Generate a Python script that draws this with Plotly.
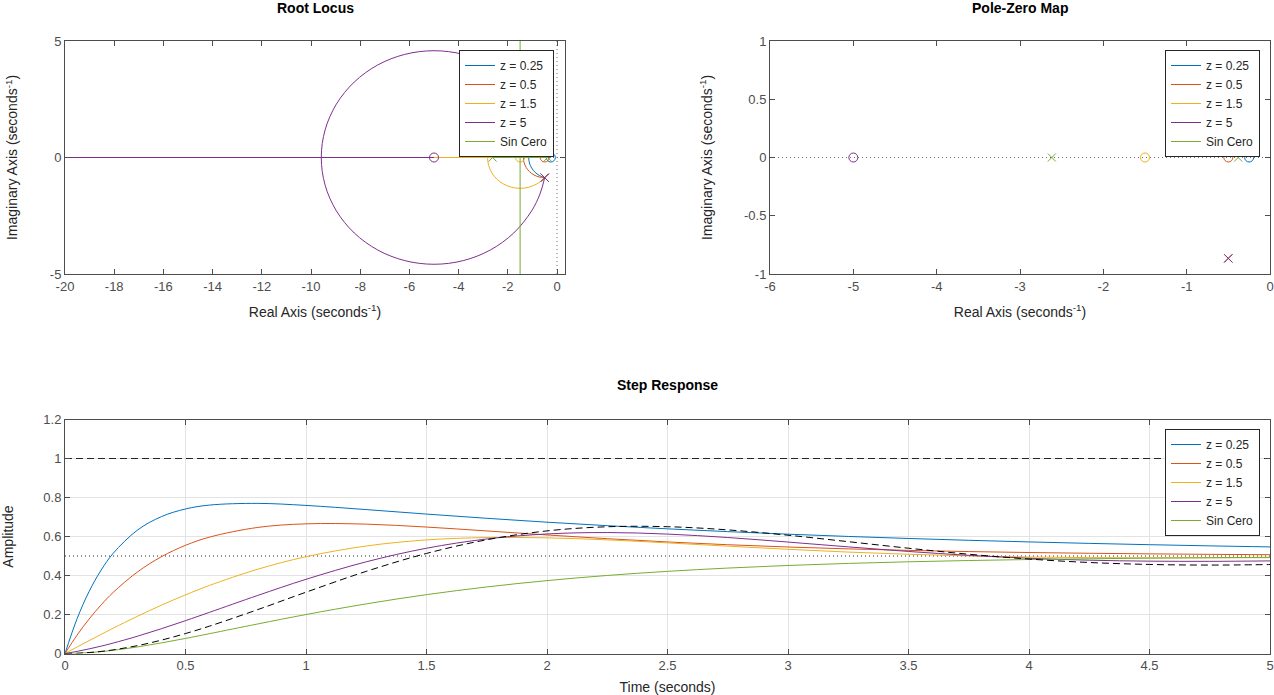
import plotly.graph_objects as go

W, H = 1274, 695

# ---------------- data ----------------
names = ['z = 0.25', 'z = 0.5', 'z = 1.5', 'z = 5', 'Sin Cero']
colors = ['#0072BD', '#D95319', '#EDB120', '#7E2F8E', '#77AC30']

# Root locus: upper-half branches (pole -> break-in point on real axis)
rl_blue_x = [-0.5, -0.7007, -0.8874, -1.0306, -1.1207, -1.1514]
rl_blue_y = [0.8660, 0.7806, 0.6374, 0.4507, 0.2333, 0.0]
rl_orange_x = [-0.5, -0.7241, -0.9330, -1.1124, -1.25, -1.3365, -1.3660]
rl_orange_y = [0.8660, 0.8365, 0.75, 0.6124, 0.4330, 0.2241, 0.0]
rl_yellow_x = [-0.5, -0.6497, -0.8386, -1.1576, -1.5, -1.8424, -2.1614, -2.4354, -2.6456, -2.7778, -2.8229]
rl_yellow_y = [0.8660, 1.0134, 1.1456, 1.2778, 1.3229, 1.2778, 1.1456, 0.9354, 0.6614, 0.3424, 0.0]
rl_purple_x = [-0.5, -0.6938, -1.0314, -1.7596, -2.7087, -3.8139, -5.0, -6.1861, -7.2913, -8.2404, -8.9686, -9.4264, -9.5826]
rl_purple_y = [0.8660, 1.5673, 2.2913, 3.2404, 3.9686, 4.4264, 4.5826, 4.4264, 3.9686, 3.2404, 2.2913, 1.1861, 0.0]
# real-axis branch extents [left, right]
rl_real_blue = [-20.0, -0.25]
rl_real_orange = [-20.0, -0.5]
rl_real_yellow = [-20.0, -1.5]
rl_real_purple = [-20.0, -5.0]
rl_real_green = [-2.618, -0.382]
rl_vert_green_x = [-1.5, -1.5]
rl_vert_green_y = [5.0, -5.0]

# poles / zeros
pole_re = -0.5
pole_im = 0.8660
zeros = [-0.25, -0.5, -1.5, -5.0]
green_poles = [-0.382, -2.618]

# axis limits and ticks
rl_xlim = [-20.0, 0.325]
rl_ylim = [-5.0, 5.0]
rl_xticks = [-20, -18, -16, -14, -12, -10, -8, -6, -4, -2, 0]
rl_yticks = [-5, 0, 5]
pz_xlim = [-6.0, 0.0]
pz_ylim = [-1.0, 1.0]
pz_xticks = [-6, -5, -4, -3, -2, -1, 0]
pz_yticks = [-1, -0.5, 0, 0.5, 1]
st_xlim = [0.0, 5.0]
st_ylim = [0.0, 1.2]
st_xticks = [0, 0.5, 1, 1.5, 2, 2.5, 3, 3.5, 4, 4.5, 5]
st_yticks = [0, 0.2, 0.4, 0.6, 0.8, 1, 1.2]

# step responses
t_step = [0, 0.05, 0.1, 0.15, 0.2, 0.3, 0.4, 0.5, 0.6, 0.8, 1.0, 1.25, 1.5, 1.75, 2.0,
          2.25, 2.5, 2.75, 3.0, 3.25, 3.5, 3.75, 4.0, 4.25, 4.5, 4.75, 5.0]
y_z025 = [0, 0.1780, 0.3180, 0.4279, 0.5138, 0.6323, 0.7020, 0.7412, 0.7612, 0.7698, 0.7594, 0.7380,
          0.7150, 0.6933, 0.6734, 0.6555, 0.6393, 0.6249, 0.6119, 0.6003, 0.5899, 0.5805, 0.5722,
          0.5647, 0.5580, 0.5520, 0.5466]
y_z05 = [0, 0.0940, 0.1767, 0.2495, 0.3133, 0.4176, 0.4963, 0.5547, 0.5970, 0.6465, 0.6649, 0.6634,
         0.6484, 0.6285, 0.6079, 0.5887, 0.5720, 0.5578, 0.5461, 0.5365, 0.5288, 0.5227, 0.5178,
         0.5140, 0.5109, 0.5085, 0.5067]
y_z15 = [0, 0.0332, 0.0659, 0.0981, 0.1297, 0.1905, 0.2477, 0.3007, 0.3493, 0.4322, 0.4963, 0.5513,
         0.5825, 0.5946, 0.5931, 0.5827, 0.5674, 0.5505, 0.5343, 0.5201, 0.5088, 0.5004, 0.4948,
         0.4917, 0.4904, 0.4906, 0.4916]
y_z5 = [0, 0.0109, 0.0236, 0.0378, 0.0535, 0.0884, 0.1271, 0.1684, 0.2113, 0.2979, 0.3804, 0.4702,
        0.5399, 0.5873, 0.6131, 0.6203, 0.6124, 0.5947, 0.5715, 0.5467, 0.5233, 0.5035, 0.4884,
        0.4785, 0.4735, 0.4726, 0.4748]
y_sin = [0, 0.0012, 0.0045, 0.0097, 0.0164, 0.0336, 0.0543, 0.0774, 0.1018, 0.1516, 0.1998, 0.2545,
         0.3018, 0.3413, 0.3738, 0.4002, 0.4213, 0.4381, 0.4515, 0.4620, 0.4703, 0.4768, 0.4819,
         0.4858, 0.4890, 0.4914, 0.4933]
y_orig = [0, 0.0012, 0.0048, 0.0107, 0.0186, 0.0402, 0.0685, 0.1023, 0.1405, 0.2252, 0.3144, 0.4213,
          0.5132, 0.5832, 0.6287, 0.6500, 0.6502, 0.6339, 0.6066, 0.5735, 0.5399, 0.5092, 0.4844,
          0.4667, 0.4566, 0.4535, 0.4561]
st_final = 1.0
st_half = 0.5

# ---------------- styling ----------------
FONT = 'Liberation Sans, Arial, Helvetica, sans-serif'
AX = '#4d4d4d'
TXT = '#262626'
DOT = '#6e6e6e'


def px(xp):
    return xp / W


def py(yp):
    return 1 - yp / H


fig = go.Figure()


def full_arc(xs, ys):
    x = list(xs) + list(reversed(xs))[1:]
    y = list(ys) + [-v for v in reversed(ys)][1:]
    return x, y


# ---- Root locus ----
fig.add_trace(go.Scatter(x=[0, 0], y=rl_ylim, mode='lines', line=dict(color=DOT, width=1, dash='1px,3px'),
                         showlegend=False, hoverinfo='skip', xaxis='x', yaxis='y'))
fig.add_trace(go.Scatter(x=rl_xlim, y=[0, 0], mode='lines', line=dict(color=DOT, width=1, dash='1px,3px'),
                         showlegend=False, hoverinfo='skip', xaxis='x', yaxis='y'))

arcs = [(rl_blue_x, rl_blue_y), (rl_orange_x, rl_orange_y), (rl_yellow_x, rl_yellow_y), (rl_purple_x, rl_purple_y)]
reals = [rl_real_blue, rl_real_orange, rl_real_yellow, rl_real_purple]
for i in range(4):
    ax_, ay_ = full_arc(*arcs[i])
    fig.add_trace(go.Scatter(x=ax_, y=ay_, mode='lines', line=dict(color=colors[i], width=1, shape='spline'),
                             name=names[i], legend='legend', xaxis='x', yaxis='y', hoverinfo='skip'))
    fig.add_trace(go.Scatter(x=reals[i], y=[0, 0], mode='lines', line=dict(color=colors[i], width=1),
                             showlegend=False, xaxis='x', yaxis='y', hoverinfo='skip'))
    fig.add_trace(go.Scatter(x=[pole_re, pole_re], y=[pole_im, -pole_im], mode='markers',
                             marker=dict(symbol='x-thin', size=8, line=dict(color=colors[i], width=1)),
                             showlegend=False, xaxis='x', yaxis='y', hoverinfo='skip'))
    fig.add_trace(go.Scatter(x=[zeros[i]], y=[0], mode='markers',
                             marker=dict(symbol='circle-open', size=9, color=colors[i], line=dict(width=1)),
                             showlegend=False, xaxis='x', yaxis='y', hoverinfo='skip'))
fig.add_trace(go.Scatter(x=rl_real_green + [None] + rl_vert_green_x, y=[0, 0, None] + rl_vert_green_y,
                         mode='lines', line=dict(color=colors[4], width=1), name=names[4], legend='legend',
                         xaxis='x', yaxis='y', hoverinfo='skip'))
fig.add_trace(go.Scatter(x=green_poles, y=[0, 0], mode='markers',
                         marker=dict(symbol='x-thin', size=8, line=dict(color=colors[4], width=1)),
                         showlegend=False, xaxis='x', yaxis='y', hoverinfo='skip'))

# ---- Pole-zero map ----
fig.add_trace(go.Scatter(x=pz_xlim, y=[0, 0], mode='lines', line=dict(color=DOT, width=1, dash='1px,3px'),
                         showlegend=False, hoverinfo='skip', xaxis='x2', yaxis='y2'))
for i in range(4):
    fig.add_trace(go.Scatter(x=[None], y=[None], mode='lines', line=dict(color=colors[i], width=1),
                             name=names[i], legend='legend2', xaxis='x2', yaxis='y2'))
    fig.add_trace(go.Scatter(x=[pole_re, pole_re], y=[pole_im, -pole_im], mode='markers',
                             marker=dict(symbol='x-thin', size=8, line=dict(color=colors[i], width=1)),
                             showlegend=False, xaxis='x2', yaxis='y2', hoverinfo='skip'))
    fig.add_trace(go.Scatter(x=[zeros[i]], y=[0], mode='markers',
                             marker=dict(symbol='circle-open', size=9, color=colors[i], line=dict(width=1)),
                             showlegend=False, xaxis='x2', yaxis='y2', hoverinfo='skip'))
fig.add_trace(go.Scatter(x=[None], y=[None], mode='lines', line=dict(color=colors[4], width=1),
                         name=names[4], legend='legend2', xaxis='x2', yaxis='y2'))
fig.add_trace(go.Scatter(x=green_poles, y=[0, 0], mode='markers',
                         marker=dict(symbol='x-thin', size=8, line=dict(color=colors[4], width=1)),
                         showlegend=False, xaxis='x2', yaxis='y2', hoverinfo='skip'))

# ---- Step response ----
fig.add_trace(go.Scatter(x=st_xlim, y=[st_final, st_final], mode='lines',
                         line=dict(color='#262626', width=1, dash='7px,4px'),
                         showlegend=False, hoverinfo='skip', xaxis='x3', yaxis='y3'))
fig.add_trace(go.Scatter(x=st_xlim, y=[st_half, st_half], mode='lines',
                         line=dict(color='#262626', width=1, dash='1px,3px'),
                         showlegend=False, hoverinfo='skip', xaxis='x3', yaxis='y3'))
for i, ys in enumerate([y_z025, y_z05, y_z15, y_z5, y_sin]):
    fig.add_trace(go.Scatter(x=t_step, y=ys, mode='lines', line=dict(color=colors[i], width=1, shape='spline'),
                             name=names[i], legend='legend3', xaxis='x3', yaxis='y3'))
fig.add_trace(go.Scatter(x=t_step, y=y_orig, mode='lines',
                         line=dict(color='#000000', width=1, shape='spline', dash='7px,4px'),
                         showlegend=False, xaxis='x3', yaxis='y3'))


def axis(domain, rng, ticks, anchor, title, grid=False, standoff=None):
    d = dict(domain=domain, range=rng, tickmode='array', tickvals=ticks, ticktext=[str(v) for v in ticks],
             showline=True, linecolor=AX, linewidth=1, mirror='ticks', ticks='inside', ticklen=5,
             tickcolor=AX, tickfont=dict(family=FONT, size=13, color=AX), zeroline=False,
             showgrid=grid, gridcolor='#e3e3e3', gridwidth=1, anchor=anchor, fixedrange=True,
             automargin=False, ticklabeloverflow='allow',
             title=dict(text=title, font=dict(family=FONT, size=14, color=TXT)))
    if standoff is not None:
        d['title']['standoff'] = standoff
    return d


top_y = [py(274), py(41)]
bot_y = [py(653.5), py(419.5)]
dom1 = [px(65), px(565)]
dom2 = [px(770), px(1270)]
dom3 = [px(65), px(1270)]

leg_common = dict(bgcolor='white', bordercolor='#262626', borderwidth=1, xanchor='right', yanchor='top',
                  font=dict(family=FONT, size=12, color=TXT), tracegroupgap=0)

# tiny pad so the end tick (0) is not culled by floating-point rounding
pz_xrange = [pz_xlim[0], pz_xlim[1] + 1e-4]

fig.update_layout(
    width=W, height=H, autosize=False,
    margin=dict(l=0, r=0, t=0, b=0, autoexpand=False),
    paper_bgcolor='white', plot_bgcolor='white',
    font=dict(family=FONT, color=TXT),
    xaxis=axis(dom1, rl_xlim, rl_xticks, 'y', 'Real Axis (seconds<sup>-1</sup>)', standoff=14),
    yaxis=axis(top_y, rl_ylim, rl_yticks, 'x', 'Imaginary Axis (seconds<sup>-1</sup>)', standoff=28),
    xaxis2=axis(dom2, pz_xrange, pz_xticks, 'y2', 'Real Axis (seconds<sup>-1</sup>)', standoff=14),
    yaxis2=axis(top_y, pz_ylim, pz_yticks, 'x2', 'Imaginary Axis (seconds<sup>-1</sup>)', standoff=28),
    xaxis3=axis(dom3, st_xlim, st_xticks, 'y3', 'Time (seconds)', grid=True, standoff=11),
    yaxis3=axis(bot_y, st_ylim, st_yticks, 'x3', 'Amplitude', grid=True, standoff=36),
    legend=dict(x=px(554), y=py(50), **leg_common),
    legend2=dict(x=px(1260), y=py(50), **leg_common),
    legend3=dict(x=px(1260), y=py(429), **leg_common),
    showlegend=True,
    annotations=[
        dict(text='<b>Root Locus</b>', x=(dom1[0] + dom1[1]) / 2, y=py(8), xref='paper', yref='paper',
             showarrow=False, font=dict(family=FONT, size=14, color='#000000'), xanchor='center', yanchor='middle'),
        dict(text='<b>Pole-Zero Map</b>', x=(dom2[0] + dom2[1]) / 2, y=py(8), xref='paper', yref='paper',
             showarrow=False, font=dict(family=FONT, size=14, color='#000000'), xanchor='center', yanchor='middle'),
        dict(text='<b>Step Response</b>', x=(dom3[0] + dom3[1]) / 2, y=py(385), xref='paper', yref='paper',
             showarrow=False, font=dict(family=FONT, size=14, color='#000000'), xanchor='center', yanchor='middle'),
    ],
)

# remove the default 8px page margin so the figure sits at the window corner
fig.write_html('out.html', config={'displayModeBar': False},
               post_script="document.body.style.margin='0px';document.body.style.overflow='hidden';")
